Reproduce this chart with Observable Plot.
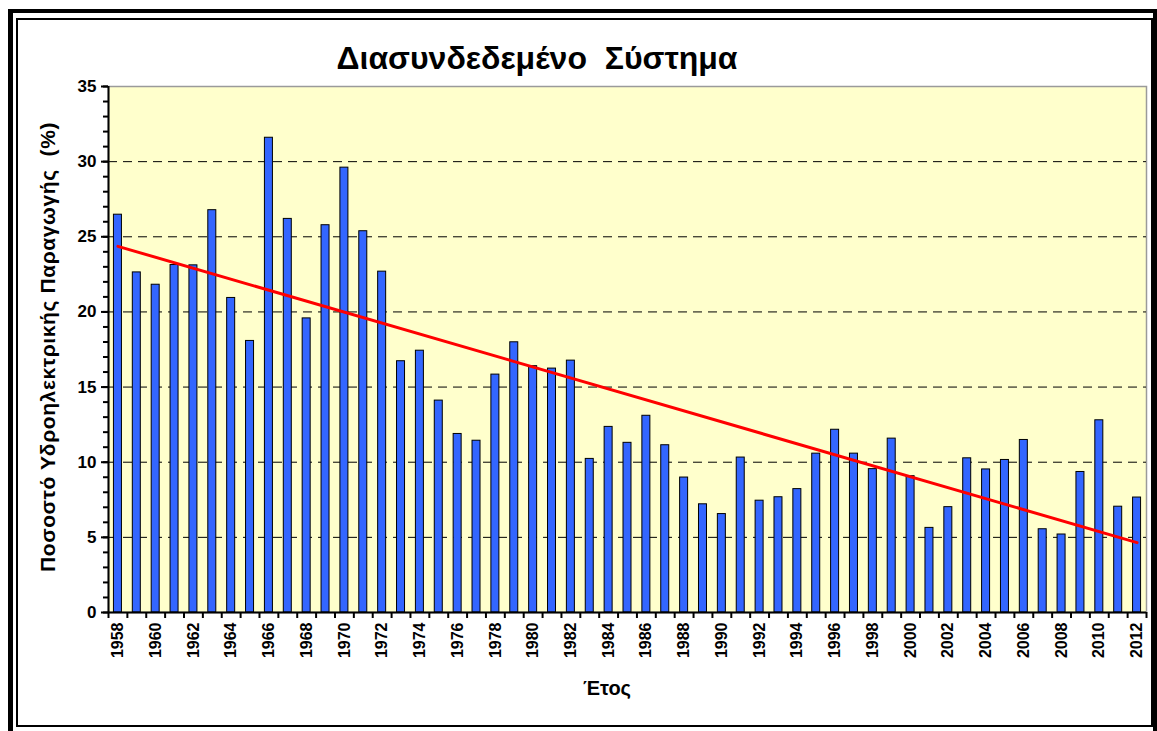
<!DOCTYPE html>
<html>
<head>
<meta charset="utf-8">
<script src="https://cdn.jsdelivr.net/npm/d3@7"></script>
<script src="https://cdn.jsdelivr.net/npm/@observablehq/plot@0.6"></script>
<style>
  html, body { margin: 0; padding: 0; background: #fff; overflow: hidden; }
  #wrap { position: relative; width: 1157px; height: 731px; overflow: hidden; font-family: "Liberation Sans", Arial, sans-serif; }
  #outer { position: absolute; left: 8px; top: 9px; width: 1149px; height: 760px; box-sizing: border-box;
           border-left: 5px solid #000; border-top: 4px solid #000; border-right: 4px solid #000; }
  #inner { position: absolute; left: 16px; top: 18px; width: 1137px; height: 709px; box-sizing: border-box; border: 2px solid #000; }
  #chart { position: absolute; left: 0; top: 0; }
  .lbl { position: absolute; font-weight: bold; color: #000; white-space: pre; line-height: 1; }
  #title { left: 537px; top: 42px; transform: translateX(-50%); font-size: 32px; }
  #xlabel { left: 607px; top: 678px; transform: translateX(-50%); font-size: 20px; }
  #ylabel { left: 47px; top: 347px; transform: translate(-50%, -50%) rotate(-90deg); font-size: 21px; letter-spacing: 0.6px; }
</style>
</head>
<body>
<div id="wrap">
  <div id="outer"></div>
  <div id="inner"></div>
  <div id="chart"></div>
  <div class="lbl" id="title">Διασυνδεδεμένο  Σύστημα</div>
  <div class="lbl" id="ylabel">Ποσοστό Υδροηλεκτρικής Παραγωγής  (%)</div>
  <div class="lbl" id="xlabel">Έτος</div>
</div>
<script>
// Years 1958–2012
const years = [1958,1959,1960,1961,1962,1963,1964,1965,1966,1967,1968,1969,1970,1971,1972,1973,1974,1975,1976,1977,1978,1979,1980,1981,1982,1983,1984,1985,1986,1987,1988,1989,1990,1991,1992,1993,1994,1995,1996,1997,1998,1999,2000,2001,2002,2003,2004,2005,2006,2007,2008,2009,2010,2011,2012];
// Hydroelectric share (%)
const hydroShare = [26.47,22.63,21.81,23.12,23.10,26.77,20.93,18.07,31.59,26.19,19.57,25.77,29.60,25.37,22.68,16.72,17.42,14.10,11.88,11.43,15.83,17.98,16.39,16.23,16.76,10.22,12.35,11.29,13.09,11.13,8.98,7.20,6.55,10.31,7.44,7.67,8.21,10.57,12.16,10.57,9.54,11.57,9.07,5.63,7.01,10.26,9.52,10.15,11.48,5.54,5.19,9.35,12.79,7.04,7.65];
// Axis tick labels
const yMajorTicks = [0,5,10,15,20,25,30,35];
const yMinorTicks = [0,1,2,3,4,5,6,7,8,9,10,11,12,13,14,15,16,17,18,19,20,21,22,23,24,25,26,27,28,29,30,31,32,33,34,35];
const yGridTicks = [5,10,15,20,25,30];
const xLabelYears = [1958,1960,1962,1964,1966,1968,1970,1972,1974,1976,1978,1980,1982,1984,1986,1988,1990,1992,1994,1996,1998,2000,2002,2004,2006,2008,2010,2012];

const data = years.map((year, i) => ({year, value: hydroShare[i]}));
const xMin = d3.min(years) - 0.5, xMax = d3.max(years) + 0.5;
const boundaries = years.map(y => y - 0.5).concat([xMax]);
const halfBar = 0.212;

const chart = Plot.plot({
  width: 1157,
  height: 731,
  marginLeft: 108,
  marginRight: 11,
  marginTop: 86,
  marginBottom: 119,
  style: {fontFamily: '"Liberation Sans", Arial, sans-serif', fontWeight: "bold", color: "#000", background: "transparent"},
  x: {type: "linear", domain: [xMin, xMax]},
  y: {domain: [0, 35]},
  marks: [
    Plot.frame({fill: "#FFFFCC", stroke: "#9a9a9a", strokeWidth: 1.5}),
    Plot.ruleY(yGridTicks, {stroke: "#000", strokeWidth: 1, strokeDasharray: "9,6"}),
    Plot.rectY(data, {x1: d => d.year - halfBar, x2: d => d.year + halfBar, y: "value", fill: "#3366FF", stroke: "#000", strokeWidth: 1}),
    Plot.linearRegressionY(data, {x: "year", y: "value", ci: 0, stroke: "#FF0000", strokeWidth: 3}),
    Plot.ruleY([0], {stroke: "#000", strokeWidth: 2}),
    Plot.ruleX([xMin], {stroke: "#000", strokeWidth: 2}),
    Plot.axisY({ticks: yMinorTicks, tickSize: 5, tickFormat: () => "", strokeWidth: 2, label: null}),
    Plot.axisY({ticks: yMajorTicks, tickSize: 7, tickPadding: 5, strokeWidth: 2, fontSize: 17, fontWeight: "bold", label: null}),
    Plot.axisX({ticks: boundaries, tickSize: 6, tickFormat: () => "", strokeWidth: 2, label: null}),
    Plot.axisX({ticks: xLabelYears, tickSize: 0, tickRotate: -90, tickPadding: 10, fontSize: 16, fontWeight: "bold", tickFormat: d => String(d), label: null})
  ]
});
document.getElementById("chart").appendChild(chart);
</script>
</body>
</html>
